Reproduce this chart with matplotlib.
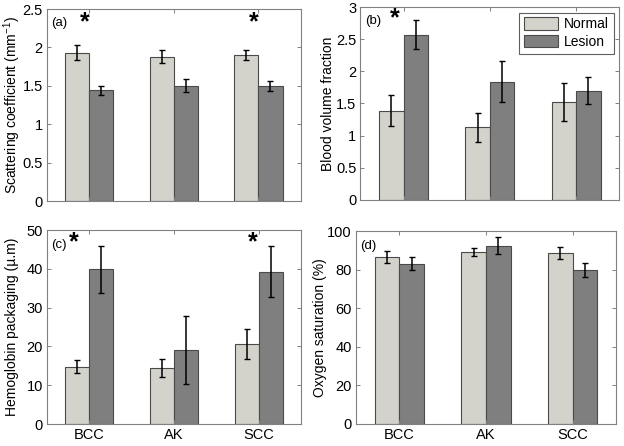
import numpy as np
import matplotlib
matplotlib.use("Agg")
import matplotlib.pyplot as plt

plt.rcParams['font.family'] = ['Liberation Sans', 'DejaVu Sans']

groups = ['BCC', 'AK', 'SCC']

# (a) scattering coefficient
scat_normal = [1.93, 1.88, 1.90]
scat_normal_err = [0.10, 0.08, 0.07]
scat_lesion = [1.44, 1.50, 1.50]
scat_lesion_err = [0.06, 0.085, 0.063]

# (b) blood volume fraction
blood_normal = [1.39, 1.13, 1.52]
blood_normal_err = [0.245, 0.23, 0.295]
blood_lesion = [2.57, 1.84, 1.70]
blood_lesion_err = [0.23, 0.315, 0.207]

# (c) hemoglobin packaging
hemo_normal = [14.8, 14.4, 20.6]
hemo_normal_err = [1.75, 2.3, 3.8]
hemo_lesion = [39.9, 19.1, 39.3]
hemo_lesion_err = [6.1, 8.7, 6.5]

# (d) oxygen saturation
oxy_normal = [86.8, 89.2, 88.7]
oxy_normal_err = [3.0, 2.0, 3.1]
oxy_lesion = [83.2, 92.5, 79.9]
oxy_lesion_err = [3.4, 4.5, 3.6]

c_normal = '#d3d3cb'
c_lesion = '#7f7f7f'
edge = '#4a4a4a'
frame = '#808080'

fig = plt.figure(figsize=(6.24, 4.46), dpi=100)
ax_a = fig.add_axes([0.0753, 0.5493, 0.4066, 0.4305])
ax_b = fig.add_axes([0.5777, 0.5516, 0.4147, 0.4327])
ax_c = fig.add_axes([0.0753, 0.0493, 0.4070, 0.4350])
ax_d = fig.add_axes([0.5705, 0.0500, 0.4167, 0.4312])

x = np.arange(1, 4)
w = 0.285

panels = [
    (ax_a, scat_normal, scat_normal_err, scat_lesion, scat_lesion_err,
     (0, 2.5), np.arange(0, 2.51, 0.5), ['0', '0.5', '1', '1.5', '2', '2.5'],
     r'Scattering coefficient (mm$^{\mathregular{-1}}$)', '(a)', -0.138),
    (ax_b, blood_normal, blood_normal_err, blood_lesion, blood_lesion_err,
     (0, 3), np.arange(0, 3.01, 0.5), ['0', '0.5', '1', '1.5', '2', '2.5', '3'],
     'Blood volume fraction', '(b)', -0.126),
    (ax_c, hemo_normal, hemo_normal_err, hemo_lesion, hemo_lesion_err,
     (0, 50), np.arange(0, 51, 10), ['0', '10', '20', '30', '40', '50'],
     'Hemoglobin packaging (\u00b5.m)', '(c)', -0.138),
    (ax_d, oxy_normal, oxy_normal_err, oxy_lesion, oxy_lesion_err,
     (0, 100), np.arange(0, 101, 20), ['0', '20', '40', '60', '80', '100'],
     'Oxygen saturation (%)', '(d)', -0.138),
]

for ax, n, ne, l, le, ylim, yt, ytl, ylab, tag, lx in panels:
    ax.bar(x - w / 2, n, w, color=c_normal, edgecolor=edge, linewidth=0.8, label='Normal')
    ax.bar(x + w / 2, l, w, color=c_lesion, edgecolor=edge, linewidth=0.8, label='Lesion')
    ax.errorbar(x - w / 2, n, yerr=ne, fmt='none', ecolor='black', elinewidth=1.1, capsize=2, capthick=1)
    ax.errorbar(x + w / 2, l, yerr=le, fmt='none', ecolor='black', elinewidth=1.1, capsize=2, capthick=1)
    ax.set_xlim(0.5, 3.5)
    ax.set_ylim(*ylim)
    ax.set_yticks(yt)
    ax.set_yticklabels(ytl)
    ax.set_xticks(x)
    if ax in (ax_c, ax_d):
        ax.set_xticklabels(groups)
    else:
        ax.set_xticklabels([])
    ax.set_ylabel(ylab, fontsize=10, va='center')
    ax.yaxis.set_label_coords(lx, 0.5)
    ax.tick_params(direction='in', length=3, width=0.7, color=frame, labelsize=10.5,
                   top=True, right=True, pad=3)
    for s in ax.spines.values():
        s.set_color(frame)
        s.set_linewidth(0.8)
    ax.text(0.017, 0.925, tag, transform=ax.transAxes, fontsize=9.5, va='center', ha='left')

star = dict(fontsize=18, fontweight='bold', ha='center', va='center')
ax_a.text(0.95, 2.33, '*', **star)
ax_a.text(2.95, 2.33, '*', **star)
ax_b.text(0.9, 2.82, '*', **star)
ax_c.text(0.82, 46.8, '*', **star)
ax_c.text(2.93, 46.8, '*', **star)

leg = ax_b.legend(loc='upper right', fontsize=10, handlelength=2.5, handleheight=1.0,
                  borderpad=0.35, labelspacing=0.25, handletextpad=0.4,
                  fancybox=False, framealpha=1, borderaxespad=0.4)
leg.get_frame().set_edgecolor('#606060')
leg.get_frame().set_linewidth(0.8)

fig.savefig('out.png', dpi=100)
